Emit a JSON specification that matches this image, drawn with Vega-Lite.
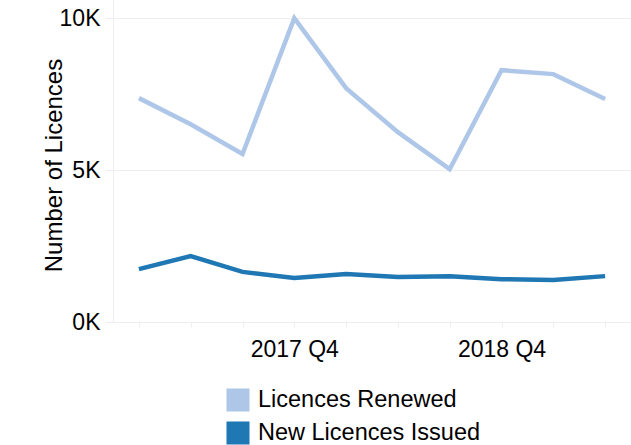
{
  "$schema": "https://vega.github.io/schema/vega-lite/v6.json",
  "autosize": "none",
  "width": 518,
  "height": 322,
  "padding": {"left": 113, "top": 0, "right": 0, "bottom": 123},
  "background": "white",
  "config": {
    "view": {"stroke": null},
    "font": "Liberation Sans"
  },
  "data": {
    "values": [
      {"quarter": "2017 Q1", "series": "Licences Renewed", "value": 7370},
      {"quarter": "2017 Q2", "series": "Licences Renewed", "value": 6510},
      {"quarter": "2017 Q3", "series": "Licences Renewed", "value": 5530},
      {"quarter": "2017 Q4", "series": "Licences Renewed", "value": 10000},
      {"quarter": "2018 Q1", "series": "Licences Renewed", "value": 7700},
      {"quarter": "2018 Q2", "series": "Licences Renewed", "value": 6250},
      {"quarter": "2018 Q3", "series": "Licences Renewed", "value": 5030},
      {"quarter": "2018 Q4", "series": "Licences Renewed", "value": 8290},
      {"quarter": "2019 Q1", "series": "Licences Renewed", "value": 8160},
      {"quarter": "2019 Q2", "series": "Licences Renewed", "value": 7340},
      {"quarter": "2017 Q1", "series": "New Licences Issued", "value": 1740},
      {"quarter": "2017 Q2", "series": "New Licences Issued", "value": 2170},
      {"quarter": "2017 Q3", "series": "New Licences Issued", "value": 1650},
      {"quarter": "2017 Q4", "series": "New Licences Issued", "value": 1450},
      {"quarter": "2018 Q1", "series": "New Licences Issued", "value": 1580},
      {"quarter": "2018 Q2", "series": "New Licences Issued", "value": 1480},
      {"quarter": "2018 Q3", "series": "New Licences Issued", "value": 1510},
      {"quarter": "2018 Q4", "series": "New Licences Issued", "value": 1410},
      {"quarter": "2019 Q1", "series": "New Licences Issued", "value": 1380},
      {"quarter": "2019 Q2", "series": "New Licences Issued", "value": 1510}
    ]
  },
  "mark": {"type": "line", "strokeWidth": 4.5},
  "encoding": {
    "x": {
      "field": "quarter",
      "type": "ordinal",
      "scale": {"type": "point", "padding": 0.5},
      "axis": {
        "title": null,
        "labelAngle": 0,
        "labelExpr": "slice(datum.value, -2) == 'Q4' ? datum.value : ''",
        "labelFont": "Liberation Sans",
        "labelFontSize": 23,
        "labelColor": "#000000",
        "labelPadding": 11,
        "domain": false,
        "ticks": true,
        "tickSize": 5,
        "tickColor": "#eeeeee",
        "grid": false
      }
    },
    "y": {
      "field": "value",
      "type": "quantitative",
      "scale": {"domain": [0, 10600], "nice": false},
      "axis": {
        "title": "Number of Licences",
        "titleFont": "Liberation Sans",
        "titleFontSize": 24,
        "titleFontWeight": "normal",
        "titleColor": "#000000",
        "titleX": -52,
        "titleY": 165,
        "titleAngle": -90,
        "titleAlign": "center",
        "titleBaseline": "alphabetic",
        "values": [0, 5000, 10000],
        "labelExpr": "format(datum.value / 1000, 'd') + 'K'",
        "labelFont": "Liberation Sans",
        "labelFontSize": 23,
        "labelColor": "#000000",
        "labelPadding": 5,
        "tickSize": 8,
        "tickColor": "#eeeeee",
        "domainColor": "#eeeeee",
        "gridColor": "#eeeeee",
        "grid": true
      }
    },
    "color": {
      "field": "series",
      "type": "nominal",
      "scale": {
        "domain": ["Licences Renewed", "New Licences Issued"],
        "range": ["#aec7e8", "#1f77b4"]
      },
      "legend": {
        "title": null,
        "orient": "none",
        "legendX": 113,
        "legendY": 388,
        "direction": "vertical",
        "symbolType": "square",
        "symbolSize": 530,
        "symbolStrokeWidth": 0,
        "labelFont": "Liberation Sans",
        "labelFontSize": 23.5,
        "labelColor": "#000000",
        "labelLimit": 0,
        "labelOffset": 8,
        "rowPadding": 9,
        "encode": {
          "symbols": {
            "update": {
              "fill": {"scale": "color", "field": "value"},
              "fillOpacity": {"value": 1}
            }
          }
        }
      }
    }
  }
}
